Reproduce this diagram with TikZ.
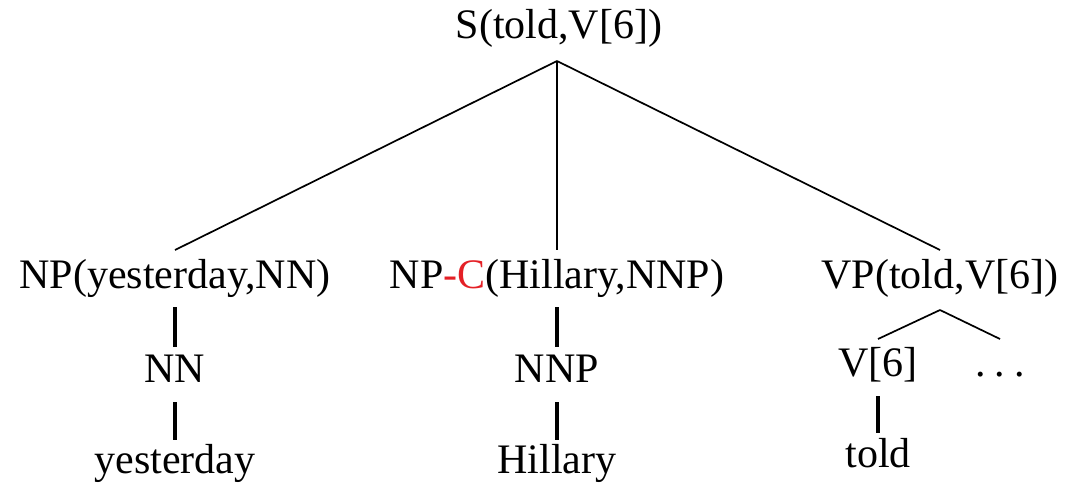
\documentclass[tikz,border=0pt]{standalone}
\usepackage{fontspec}
\setmainfont{Liberation Serif}
\definecolor{headred}{RGB}{228,32,38}
\begin{document}
\begin{tikzpicture}[x=1pt,y=-1pt,
  lbl/.style={anchor=base,inner sep=0pt,font=\fontsize{42}{50}\selectfont},
  branch/.style={line width=1.7pt},
  stem/.style={line width=3.2pt}]
\useasboundingbox (0,0) rectangle (1065,485);

% root
\node[lbl] (S) at (559,38) {S(told,V[6])};

% second level
\node[lbl] (NP)  at (175,288) {NP(yesterday,NN)};
\node[lbl] (NPC) at (557,288) {NP\textcolor{headred}{-C}(Hillary,NNP)};
\node[lbl] (VP)  at (940,288) {VP(told,V[6])};

% preterminals
\node[lbl] (NN)  at (175,382) {NN};
\node[lbl] (NNP) at (557,382) {NNP};
\node[lbl] (V)   at (878,376) {V[6]};
\node[lbl] (dots) at (1000,376) {.\hspace{0.22em}.\hspace{0.22em}.};

% words
\node[lbl] (w1) at (175,473) {yesterday};
\node[lbl] (w2) at (557,473) {Hillary};
\node[lbl] (w3) at (878,467) {told};

% branches from the root
\coordinate (apex) at ([xshift=-2pt,yshift=-23pt]S.base);
\draw[branch] (apex) -- ([yshift=38pt]NP.base);
\draw[branch] (apex) -- ([yshift=38pt]NPC.base);
\draw[branch] (apex) -- ([yshift=38pt]VP.base);

% VP expansion
\coordinate (vpapex) at ([yshift=-22pt]VP.base);
\draw[branch] (vpapex) -- ([yshift=37pt]V.base);
\draw[branch] (vpapex) -- ([yshift=37pt]dots.base);

% unary stems
\draw[stem] ([yshift=-19pt]NP.base) -- ([yshift=35pt]NN.base);
\draw[stem] ([yshift=-20pt]NN.base) -- ([yshift=33pt]w1.base);
\draw[stem] ([yshift=-19pt]NPC.base) -- ([yshift=35pt]NNP.base);
\draw[stem] ([yshift=-20pt]NNP.base) -- ([yshift=33pt]w2.base);
\draw[stem] ([yshift=-20pt]V.base) -- ([yshift=34pt]w3.base);
\end{tikzpicture}
\end{document}
